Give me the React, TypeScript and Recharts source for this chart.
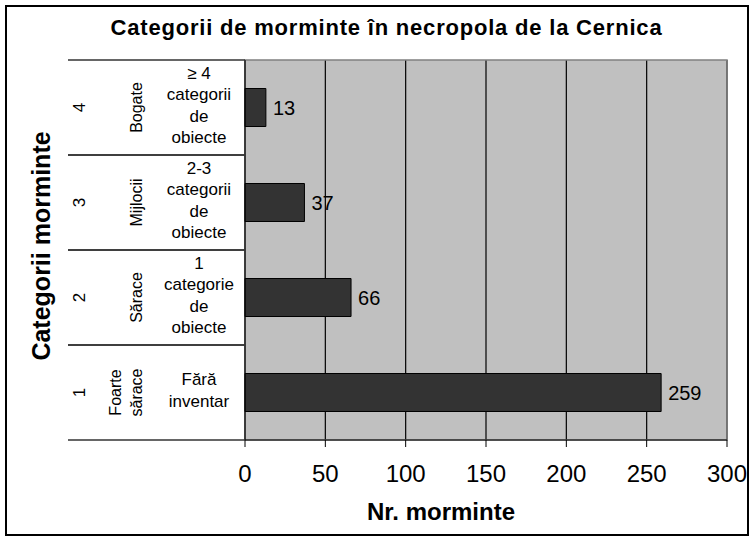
import React from "react";
import {
  BarChart,
  Bar,
  XAxis,
  YAxis,
  CartesianGrid,
  ReferenceArea,
  LabelList,
} from "recharts";

// categories (bottom to top) and their labels
const categories = ["1", "2", "3", "4"];
const groupLabels = [["Foarte", "sărace"], ["Sărace"], ["Mijlocii"], ["Bogate"]];
const descLabels = [
  ["Fără", "inventar"],
  ["1", "categorie", "de", "obiecte"],
  ["2-3", "categorii", "de", "obiecte"],
  ["≥ 4", "categorii", "de", "obiecte"],
];
const graveCounts = [259, 66, 37, 13];
const xTicks = [0, 50, 100, 150, 200, 250, 300];

const data = categories.map((c, i) => ({ cat: c, value: graveCounts[i] }));

const W = 750;
const H = 536;
const TOP = 60;
const BOTTOM = 96;
const LEFT = 245;
const RIGHT = 23;
const BAND = (H - TOP - BOTTOM) / categories.length;
const FONT = "Arial, 'Liberation Sans', sans-serif";

function CategoryTick(props: any) {
  const { y, payload } = props;
  const i = categories.indexOf(String(payload.value));
  const group = groupLabels[i];
  const desc = descLabels[i];
  const lh = 21.5;
  const gx = 136;
  return (
    <g>
      <line x1={68} x2={LEFT} y1={y - BAND / 2} y2={y - BAND / 2} stroke="#333" strokeWidth={1.5} />
      <line x1={68} x2={LEFT} y1={y + BAND / 2} y2={y + BAND / 2} stroke="#333" strokeWidth={1.5} />
      <text
        x={79}
        y={y}
        fontSize={17}
        fontFamily={FONT}
        textAnchor="middle"
        dominantBaseline="central"
        transform={`rotate(-90 79 ${y})`}
        fill="#000"
      >
        {payload.value}
      </text>
      {group.map((g, k) => {
        const gxk = gx - (group.length - 1 - k) * 21;
        return (
          <text
            key={k}
            x={gxk}
            y={y}
            fontSize={16}
            fontFamily={FONT}
            textAnchor="middle"
            dominantBaseline="central"
            transform={`rotate(-90 ${gxk} ${y})`}
            fill="#000"
          >
            {g}
          </text>
        );
      })}
      {desc.map((d, k) => (
        <text
          key={k}
          x={199}
          y={y - 2 + (k - (desc.length - 1) / 2) * lh}
          fontSize={17}
          fontFamily={FONT}
          textAnchor="middle"
          dominantBaseline="central"
          fill="#000"
        >
          {d}
        </text>
      ))}
    </g>
  );
}

export default function App() {
  return (
    <div style={{ position: "absolute", left: 0, top: 0, width: W, height: H, background: "#fff" }}>
      <div
        style={{
          position: "absolute",
          left: 5,
          top: 5,
          width: 744,
          height: 531,
          border: "2px solid #000",
          boxSizing: "border-box",
        }}
      />
      <div
        style={{
          position: "absolute",
          left: 0,
          top: 17,
          width: 773,
          textAlign: "center",
          fontFamily: FONT,
          fontWeight: "bold",
          fontSize: 22,
          lineHeight: "22px",
          letterSpacing: 0.8,
          whiteSpace: "nowrap",
        }}
      >
        Categorii de morminte în necropola de la Cernica
      </div>
      <div style={{ position: "absolute", left: 0, top: 0 }}>
        <BarChart
          width={W}
          height={H}
          data={data}
          layout="vertical"
          barCategoryGap="30%"
          margin={{ top: TOP, right: RIGHT, bottom: 0, left: 0 }}
        >
          <CartesianGrid horizontal={false} stroke="#000" strokeWidth={1.2} fill="#C0C0C0" fillOpacity={1} />
          <ReferenceArea x1={0} x2={300} fill="none" stroke="#808080" strokeWidth={1.5} ifOverflow="visible" />
          <XAxis
            type="number"
            domain={[0, 300]}
            ticks={xTicks}
            height={BOTTOM}
            tickSize={7}
            tickMargin={18}
            stroke="#000"
            tick={{ fontSize: 24, fill: "#000", fontFamily: FONT }}
            label={{
              content: () => (
                <text
                  x={441}
                  y={511}
                  textAnchor="middle"
                  dominantBaseline="central"
                  fontFamily={FONT}
                  fontWeight="bold"
                  fontSize={24}
                  fill="#000"
                >
                  Nr. morminte
                </text>
              ),
            }}
          />
          <YAxis
            type="category"
            dataKey="cat"
            reversed
            width={LEFT}
            tickLine={false}
            stroke="#000"
            tick={<CategoryTick />}
            label={{
              content: () => (
                <text
                  x={41}
                  y={246}
                  textAnchor="middle"
                  dominantBaseline="central"
                  transform="rotate(-90 41 246)"
                  fontFamily={FONT}
                  fontWeight="bold"
                  fontSize={25}
                  fill="#000"
                >
                  Categorii morminte
                </text>
              ),
            }}
          />
          <Bar dataKey="value" fill="#333333" stroke="#000" strokeWidth={1} isAnimationActive={false}>
            <LabelList
              dataKey="value"
              position="right"
              offset={7}
              style={{ fontSize: 20, fill: "#000", fontFamily: FONT }}
            />
          </Bar>
        </BarChart>
      </div>
    </div>
  );
}
